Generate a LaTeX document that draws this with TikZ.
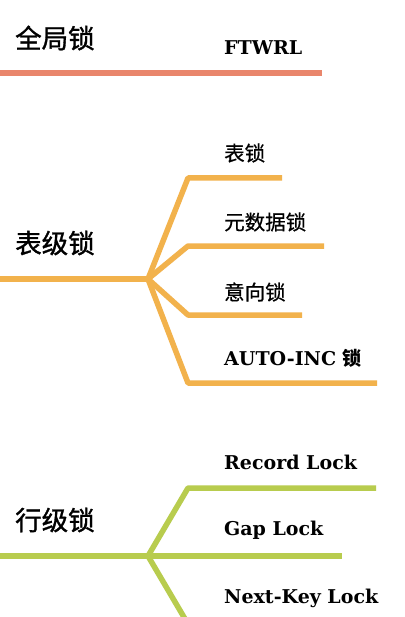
\documentclass[tikz,border=0pt]{standalone}
\usepackage{fontspec}
\newfontfamily\cjk{Noto Sans CJK SC}
\newfontfamily\cjkmid[FakeBold=1.2]{Noto Sans CJK SC}
\newfontfamily\cjksemi[FakeBold=0.6]{Noto Sans CJK SC}
\newfontfamily\slab{DejaVu Serif}
\definecolor{globalred}{HTML}{E9866C}
\definecolor{tableorange}{HTML}{F2B24C}
\definecolor{rowgreen}{HTML}{B8CC4E}
\begin{document}
\begin{tikzpicture}[x=1pt,y=-1pt,
  branch/.style={line width=5.5pt, line join=round},
  title/.style={font=\cjkmid\fontsize{26.5}{26.5}\selectfont, inner sep=0pt, anchor=west},
  leaf/.style={font=\cjksemi\fontsize{20.5}{20.5}\selectfont, inner sep=0pt, anchor=west},
  leafen/.style={font=\slab\bfseries\fontsize{19}{19}\selectfont, inner sep=0pt, anchor=west}]
\clip (0,0) rectangle (404,617);
\fill[white] (0,0) rectangle (404,617);
\node[title] (global) at (15,38) {全局锁};
\node[leafen] (ftwrl) at (224,48) {FTWRL};
\coordinate (gstart) at (0,73);
\coordinate (gend) at (322,73);
\draw[branch, color=globalred] (gstart) -- (gend);
\node[title] (table) at (15,243) {表级锁};
\coordinate (tstart) at (0,279);
\coordinate (tfork) at (148,279);
\coordinate (tbend) at (188,279);
\coordinate (t1) at (282,178);
\coordinate (t2) at (324,246);
\coordinate (t3) at (302,315);
\coordinate (t4) at (377,383);
\node[leaf] (tablelock) at (224,153) {表锁};
\node[leaf] (mdl) at (224,222) {元数据锁};
\node[leaf] (intent) at (224,292) {意向锁};
\node[leafen] (autoinc) at (224,358) {AUTO-INC {\cjk 锁}};
\draw[branch, color=tableorange] (tstart) -- (tfork);
\foreach \t in {t1,t2,t3,t4}
  \draw[branch, color=tableorange] (tfork) -- (tbend |- \t) -- (\t);
\node[title] (row) at (15,520) {行级锁};
\coordinate (rstart) at (0,556);
\coordinate (rfork) at (148,556);
\coordinate (rbend) at (188,556);
\coordinate (r1) at (376,488);
\coordinate (r2) at (342,556);
\coordinate (r3) at (380,624);
\node[leafen] (record) at (224,462) {Record Lock};
\node[leafen] (gap) at (224,530) {Gap Lock};
\node[leafen] (nextkey) at (224,598) {Next-Key Lock};
\draw[branch, color=rowgreen] (rstart) -- (rfork);
\draw[branch, color=rowgreen] (rfork) -- (rbend |- r1) -- (r1);
\draw[branch, color=rowgreen] (rfork) -- (r2);
\draw[branch, color=rowgreen] (rfork) -- (rbend |- r3) -- (r3);
\end{tikzpicture}
\end{document}
